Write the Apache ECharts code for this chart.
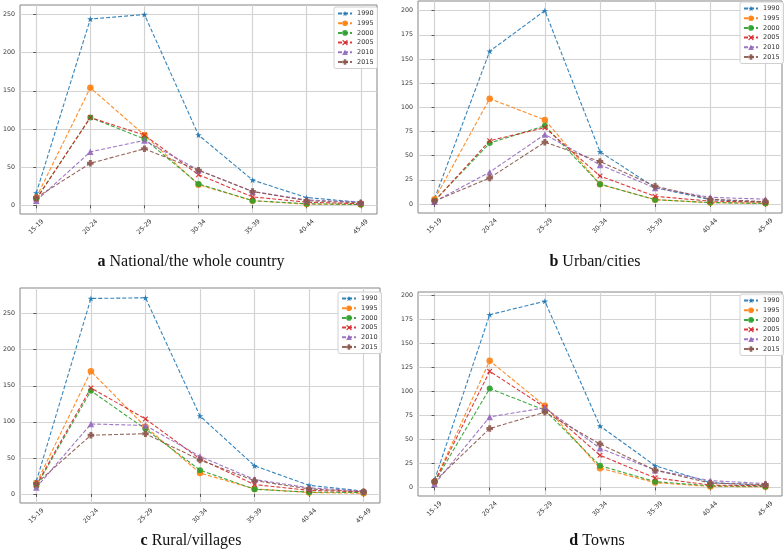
<!DOCTYPE html>
<html>
<head>
<meta charset="utf-8">
<script src="https://cdn.jsdelivr.net/npm/echarts@6/dist/echarts.min.js"></script>
<style>
html,body{margin:0;padding:0;background:#fff;}
#chart{width:784px;height:553px;}
</style>
</head>
<body>
<div id="chart"></div>
<script>
// ---- data ----
const ageGroups = ['15-19', '20-24', '25-29', '30-34', '35-39', '40-44', '45-49'];
const years = ['1990', '1995', '2000', '2005', '2010', '2015'];

// rows follow the order of `years`
const nationalData = [
  [16, 244, 250, 92, 33, 10, 4],
  [10, 154, 92, 27, 6, 1.5, 1],
  [8, 115, 87, 28, 6, 2, 1],
  [8, 115, 92, 40, 11, 4, 2],
  [6, 70, 85, 46, 18, 7, 4],
  [10, 55, 74, 46, 18, 6, 3]
];
const urbanData = [
  [5.5, 158, 200, 54, 17, 4.5, 2],
  [5, 109, 87, 20.5, 4.5, 1.5, 0.7],
  [3.5, 63, 81, 20.5, 4.5, 1.5, 0.7],
  [3, 65.5, 79, 29, 8, 3, 2],
  [2.5, 33, 72, 40.5, 16.5, 7, 5],
  [3, 27, 64, 44, 18.5, 5, 2.5]
];
const ruralData = [
  [17.7, 271, 272, 108, 39, 12, 4],
  [15, 170, 93, 29, 7, 2, 1],
  [11, 143, 90, 33, 6.5, 2.5, 2],
  [12.5, 147, 104, 48.5, 13, 5, 3],
  [9, 97, 95, 52, 20, 8.5, 4],
  [14.5, 81.5, 83.5, 47, 18.5, 7, 3]
];
const townsData = [
  [7.7, 180, 194, 64, 22.6, 5, 2],
  [5.6, 132, 85, 20, 5, 1, 0.7],
  [5.6, 103, 80.5, 22.6, 6, 1.7, 1],
  [5.6, 121, 83.6, 33.4, 10, 2.4, 1.7],
  [3.5, 73.5, 83, 40.8, 18, 7, 4],
  [6.3, 61.3, 78.4, 45.3, 18, 4.5, 3]
];

const yTicks250 = [0, 50, 100, 150, 200, 250];
const yTicks200 = [0, 25, 50, 75, 100, 125, 150, 175, 200];

const panelLetters = ['a', 'b', 'c', 'd'];
const panelTitles = ['National/the whole country', 'Urban/cities', 'Rural/villages', 'Towns'];

// ---- styling / layout ----
const colors = ['#1f77b4', '#ff7f0e', '#2ca02c', '#d62728', '#9467bd', '#8c564b'];
const star = 'path://M0,-1 L0.224,-0.309 L0.951,-0.309 L0.363,0.118 L0.588,0.809 L0,0.382 L-0.588,0.809 L-0.363,0.118 L-0.951,-0.309 L-0.224,-0.309 Z';
const xMark = 'path://M-1,-0.7 L-0.7,-1 L0,-0.3 L0.7,-1 L1,-0.7 L0.3,0 L1,0.7 L0.7,1 L0,0.3 L-0.7,1 L-1,0.7 L-0.3,0 Z';
const plusMark = 'path://M-0.45,-1 L0.45,-1 L0.45,-0.45 L1,-0.45 L1,0.45 L0.45,0.45 L0.45,1 L-0.45,1 L-0.45,0.45 L-1,0.45 L-1,-0.45 L-0.45,-0.45 Z';
const symbols = [star, 'circle', 'circle', xMark, 'triangle', plusMark];
const symbolSizes = [6.5, 6.5, 6, 5.5, 6.5, 6.5];

const panels = [
  { data: nationalData, ticks: yTicks250, grid: { left: 16, top: 5, width: 361, height: 209 }, legend: { left: 334, top: 7 }, title: [191, 262] },
  { data: urbanData, ticks: yTicks200, grid: { left: 418, top: 1, width: 364, height: 212 }, legend: { left: 740, top: 2 }, title: [595, 262] },
  { data: ruralData, ticks: yTicks250, grid: { left: 17, top: 288, width: 363, height: 215 }, legend: { left: 338, top: 292 }, title: [191, 541] },
  { data: townsData, ticks: yTicks200, grid: { left: 418, top: 292, width: 364, height: 204 }, legend: { left: 740, top: 294 }, title: [597, 541] }
];

const tickFont = { fontFamily: 'DejaVu Sans', fontSize: 6.3, color: '#333' };
const xCustom = ageGroups.map((_, i) => i);

const option = {
  animation: false,
  backgroundColor: '#fff',
  grid: [], xAxis: [], yAxis: [], series: [], legend: [], graphic: []
};

panels.forEach((p, gi) => {
  let lo = Infinity, hi = -Infinity;
  p.data.forEach(r => r.forEach(v => { lo = Math.min(lo, v); hi = Math.max(hi, v); }));
  const pad = (hi - lo) * 0.05;

  option.grid.push(Object.assign({ show: true, borderColor: '#858585', borderWidth: 1, backgroundColor: 'transparent' }, p.grid));
  option.xAxis.push({
    type: 'value', gridIndex: gi, min: -0.3, max: ageGroups.length - 1 + 0.3,
    axisLine: { show: false },
    axisTick: { show: true, length: 3, customValues: xCustom, lineStyle: { color: '#555' } },
    axisLabel: Object.assign({
      customValues: xCustom, rotate: 45, align: 'center', verticalAlign: 'middle', margin: 13,
      formatter: v => ageGroups[Math.round(v)] || ''
    }, tickFont),
    splitLine: { show: true, lineStyle: { color: '#d3d3d3', width: 1.2 } }
  });
  option.yAxis.push({
    type: 'value', gridIndex: gi, min: lo - pad, max: hi + pad,
    axisLine: { show: false },
    axisTick: { show: true, length: 3, customValues: p.ticks, lineStyle: { color: '#555' } },
    axisLabel: Object.assign({ customValues: p.ticks, margin: 5 }, tickFont),
    splitLine: { show: true, lineStyle: { color: '#d3d3d3', width: 1.2 } }
  });
  years.forEach((y, si) => {
    option.series.push({
      type: 'line', name: y, xAxisIndex: gi, yAxisIndex: gi,
      data: p.data[si].map((v, i) => [i, v]),
      symbol: symbols[si], symbolSize: symbolSizes[si], symbolKeepAspect: true,
      showAllSymbol: true,
      lineStyle: { color: colors[si], width: 1.1, type: [4, 2], opacity: 0.9 },
      itemStyle: { color: colors[si], opacity: 0.9 },
      emphasis: { disabled: true }
    });
  });
  option.legend.push({
    data: years, orient: 'vertical', left: p.legend.left, top: p.legend.top,
    itemWidth: 14, itemHeight: 7, itemGap: 2.7,
    padding: [3, 4, 3, 3],
    backgroundColor: 'rgba(255,255,255,0.85)', borderColor: '#d0d0d0', borderWidth: 1, borderRadius: 2,
    textStyle: { fontFamily: 'DejaVu Sans', fontSize: 6.5, color: '#333', lineHeight: 7, padding: [0, 0, 0, 0] },
    selectedMode: false
  });
  option.graphic.push({
    type: 'text', x: p.title[0], y: p.title[1],
    style: {
      text: '{b|' + panelLetters[gi] + '} ' + panelTitles[gi],
      textAlign: 'center', textVerticalAlign: 'middle',
      fontFamily: 'Liberation Serif', fontSize: 16, fill: '#111',
      rich: { b: { fontFamily: 'Liberation Serif', fontSize: 16, fontWeight: 'bold', fill: '#111' } }
    }
  });
});

const chart = echarts.init(document.getElementById('chart'), null, { renderer: 'canvas' });
chart.setOption(option);
</script>
</body>
</html>
